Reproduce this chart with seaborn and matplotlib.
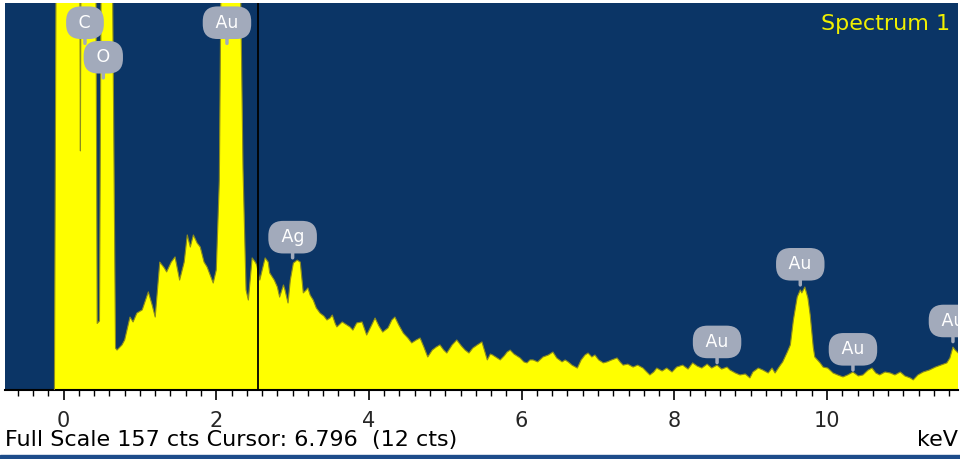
import numpy as np
import matplotlib
matplotlib.use("Agg")
import matplotlib.pyplot as plt
import seaborn as sns
from matplotlib.ticker import MultipleLocator, FuncFormatter

# ---------------- data ----------------
energy_kev = [
    -0.12, -0.08, 0.10, 0.20, 0.22, 0.24, 0.32, 0.42, 0.44, 0.47, 0.50, 0.56, 0.64, 0.68,
    0.70, 0.765, 0.80, 0.87, 0.91, 0.96, 1.03, 1.11, 1.16, 1.20, 1.26, 1.32, 1.35, 1.41,
    1.46, 1.52, 1.58, 1.62, 1.66, 1.70, 1.75, 1.79, 1.84, 1.88, 1.92, 1.96, 2.00, 2.04,
    2.06, 2.19, 2.32, 2.35, 2.39, 2.42, 2.47, 2.51, 2.53, 2.57, 2.64, 2.68, 2.70, 2.76,
    2.80, 2.83, 2.88, 2.90, 2.94, 2.97, 3.01, 3.06, 3.10, 3.14, 3.18, 3.20, 3.23, 3.27,
    3.31, 3.36, 3.41, 3.45, 3.49, 3.52, 3.56, 3.58, 3.65, 3.71, 3.75, 3.79, 3.84, 3.91,
    3.97, 4.03, 4.08, 4.13, 4.18, 4.25, 4.30, 4.34, 4.39, 4.45, 4.51, 4.56, 4.62, 4.67,
    4.72, 4.77, 4.83, 4.88, 4.93, 4.98, 5.02, 5.09, 5.15, 5.21, 5.26, 5.31, 5.36, 5.42,
    5.48, 5.52, 5.55, 5.59, 5.62, 5.68, 5.72, 5.77, 5.81, 5.85, 5.90, 5.98, 6.03, 6.07,
    6.11, 6.15, 6.21, 6.28, 6.35, 6.41, 6.46, 6.53, 6.57, 6.61, 6.66, 6.73, 6.78, 6.83,
    6.87, 6.92, 6.96, 7.01, 7.07, 7.12, 7.18, 7.25, 7.29, 7.33, 7.39, 7.46, 7.52, 7.59,
    7.64, 7.68, 7.73, 7.77, 7.84, 7.90, 7.97, 8.03, 8.11, 8.18, 8.24, 8.30, 8.36, 8.43,
    8.49, 8.56, 8.62, 8.69, 8.73, 8.80, 8.86, 8.93, 8.99, 9.03, 9.10, 9.16, 9.23, 9.28,
    9.32, 9.38, 9.42, 9.48, 9.52, 9.56, 9.61, 9.65, 9.67, 9.71, 9.75, 9.78, 9.82, 9.84,
    9.91, 9.95, 10.01, 10.08, 10.14, 10.21, 10.27, 10.34, 10.41, 10.47, 10.54, 10.59,
    10.64, 10.69, 10.76, 10.83, 10.89, 10.96, 11.02, 11.09, 11.13, 11.19, 11.26, 11.34,
    11.42, 11.49, 11.57, 11.61, 11.65, 11.68, 11.72, 11.77,
]
counts = [
    0, 320, 380, 300, 97, 300, 420, 200, 27, 28, 220, 260, 170, 17,
    16.2, 18.3, 20.3, 29.6, 27.6, 31.2, 32.5, 39.8, 34.5, 29.6, 51.9, 49.5, 47.9, 51.9,
    54.0, 44.6, 51.9, 62.9, 58.0, 62.9, 59.6, 58.0, 51.9, 49.9, 46.7, 43.4, 48.7, 85,
    160, 168, 160, 90, 40.6, 36.5, 53.6, 51.9, 50.7, 44.6, 53.6, 51.9, 47.5, 44.6,
    41.8, 37.7, 42.6, 40.6, 35.3, 44.6, 51.5, 52.7, 51.9, 39.4, 40.6, 41.4, 38.5, 36.5,
    33.3, 31.2, 30.0, 28.4, 29.2, 30.4, 26.8, 25.6, 27.6, 26.4, 25.6, 24.3, 27.2, 27.6,
    22.3, 26.0, 29.2, 26.0, 23.5, 25.2, 28.4, 29.6, 26.4, 23.1, 21.1, 19.1, 20.3, 21.1,
    17.4, 13.4, 16.2, 17.4, 18.3, 16.2, 15.0, 18.3, 20.3, 17.9, 16.2, 15.0, 17.0, 18.3,
    19.5, 15.4, 12.2, 14.6, 14.2, 13.0, 12.2, 13.8, 15.4, 16.2, 14.6, 13.0, 11.4, 11.0,
    12.2, 12.2, 11.4, 13.4, 14.2, 15.4, 13.0, 11.4, 12.2, 11.4, 10.1, 8.9, 12.2, 14.2,
    15.0, 13.4, 14.2, 12.2, 11.0, 11.4, 12.2, 13.0, 11.4, 10.1, 10.5, 9.3, 10.1, 8.9,
    7.3, 6.1, 7.3, 8.9, 7.7, 8.9, 7.3, 9.3, 10.1, 8.5, 11.0, 9.7, 8.9, 10.5,
    8.9, 10.1, 8.5, 9.3, 8.1, 6.9, 6.1, 6.5, 4.9, 7.3, 8.9, 8.1, 6.9, 8.9,
    6.9, 9.7, 11.4, 15.4, 18.3, 28.4, 37.7, 40.6, 39.4, 41.8, 37.3, 30.4, 17.4, 13.4,
    11.0, 9.3, 8.9, 6.9, 6.1, 5.3, 6.1, 7.3, 5.7, 6.1, 8.1, 8.9,
    6.9, 6.1, 7.3, 6.9, 6.1, 7.3, 5.7, 4.9, 4.1, 6.1, 7.3, 8.1,
    9.3, 10.1, 11.0, 13.0, 17.4, 16.2, 15.0, 15.0,
]

peak_labels = ["C", "O", "Au", "Ag", "Au", "Au", "Au", "Au"]
peak_label_e = [0.28, 0.52, 2.14, 3.00, 8.56, 9.65, 10.34, 11.65]
peak_label_c = [149, 135, 149, 62, 19.5, 51, 16.5, 28]

full_scale_cts = 157
cursor_kev = 2.55
x_ticks = [0, 2, 4, 6, 8, 10]
status_text = "Full Scale 157 cts Cursor: 6.796  (12 cts)"
spectrum_name = "Spectrum 1"

# ---------------- drawing ----------------
sns.set_style("white")
plt.rcParams["font.family"] = ["DejaVu Sans"]

BG = "#0b3566"
YEL = "#ffff00"
BUBBLE = "#a2aabb"

fig = plt.figure(figsize=(9.6, 4.59), dpi=100)
fig.patch.set_facecolor("white")
ax = fig.add_axes([5 / 960, 69 / 459, 953 / 960, 387 / 459])
ax.set_facecolor(BG)

ax.fill_between(energy_kev, 0, counts, color=YEL, linewidth=0, zorder=2)
sns.lineplot(x=energy_kev, y=counts, ax=ax, color="#8c8c1e", linewidth=0.8,
             estimator=None, sort=False, zorder=3)

ax.axvline(cursor_kev, color="#000000", linewidth=1.3, zorder=4)

# peak label bubbles
for lab, e, c in zip(peak_labels, peak_label_e, peak_label_c):
    ax.annotate("", xy=(e, c - 9.5), xytext=(e, c - 3),
                arrowprops=dict(arrowstyle="-", color=BUBBLE, lw=2.5),
                zorder=5, annotation_clip=False)
    ax.text(e, c, f" {lab} ", ha="center", va="center", color="white",
            fontsize=12.5, zorder=6, clip_on=True,
            bbox=dict(boxstyle="round,pad=0.42,rounding_size=0.85",
                      fc=BUBBLE, ec="none"))

ax.text(0.9916, 0.945, spectrum_name, transform=ax.transAxes, ha="right",
        va="center", color="#f0f000", fontsize=16)

ax.set_xlim((5 - 63.6) / 76.34, (958 - 63.6) / 76.34)
ax.set_ylim(0, full_scale_cts)

for s in ["top", "left", "right"]:
    ax.spines[s].set_visible(False)
ax.spines["bottom"].set_color("black")
ax.spines["bottom"].set_linewidth(1.5)

ax.set_yticks([])
ax.set_xticks(x_ticks)
ax.xaxis.set_minor_locator(MultipleLocator(0.2))
ax.xaxis.set_major_formatter(FuncFormatter(lambda v, p: f"{v:g}"))
ax.tick_params(axis="x", which="major", direction="out", length=7, width=1.2,
               color="black", labelsize=15, pad=8, bottom=True)
ax.tick_params(axis="x", which="minor", direction="out", length=4, width=1,
               color="black", bottom=True)
ax.set_xlabel("")
ax.set_ylabel("")

fig.text(5 / 960, 1 - 440 / 459, status_text, ha="left", va="center",
         fontsize=16, color="black")
fig.text(958 / 960, 1 - 440 / 459, "keV", ha="right", va="center",
         fontsize=16, color="black")

# thin blue border at the very bottom
fig.add_artist(plt.Rectangle((0, 0), 1, 4 / 459, transform=fig.transFigure,
                             color="#1d4c8a", zorder=10))

fig.savefig("out.png", dpi=100, facecolor=fig.get_facecolor())
